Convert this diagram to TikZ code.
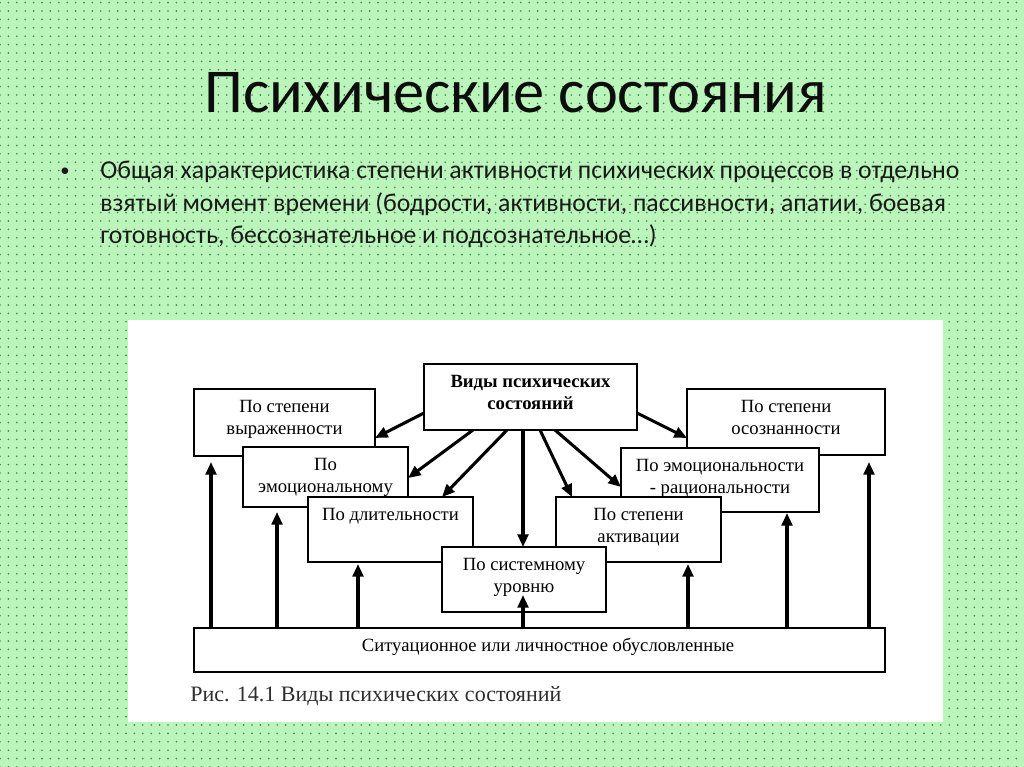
\documentclass[tikz,border=0pt]{standalone}
\usepackage{fontspec}
\setmainfont{Carlito}
\newfontfamily\dgfont{Liberation Serif}
\usetikzlibrary{patterns.meta,arrows.meta,calc}
\definecolor{bggreen}{RGB}{188,245,188}
\definecolor{dotgreen}{RGB}{60,140,75}
\definecolor{captxt}{RGB}{45,45,45}
\newdimen\pxu \pxu=0.75pt
\newcommand\bxt[3]{\parbox[c][#2\pxu][t]{#1\pxu}{\centering\vspace*{5.7pt}\strut#3\par}}
\begin{document}
\begin{tikzpicture}[x=0.75pt,y=-0.75pt,
  box/.style={draw=black, fill=white, line width=1.6pt, inner sep=0pt, outer sep=0pt,
    text=black, font=\dgfont\fontsize{14}{16.5}\selectfont},
  arr/.style={line width=2.3pt, -{Triangle[length=9.5pt,width=8pt]}},
  bodytxt/.style={anchor=base west, inner sep=0pt, text=black!90, font=\fontsize{19.3}{24}\selectfont}]
\fill[bggreen] (0,0) rectangle (1024,767);
\fill[pattern={Dots[distance=6.3pt,radius=0.7pt]}, pattern color=dotgreen] (0,0) rectangle (1024,767);
\useasboundingbox (0,0) rectangle (1024,767);

% title and text
\node[anchor=base west, inner sep=0pt, text=black!95, font=\fontsize{46.8}{52}\selectfont] (title) at (204,113) {Психические состояния};
\node[anchor=base, inner sep=0pt, text=black!90, font=\fontsize{14}{20}\selectfont] (bullet) at (65,176) {•};
\node[bodytxt] (l1) at (100,178) {Общая характеристика степени активности психических процессов в отдельно};
\node[bodytxt] (l2) at (100,211) {взятый момент времени (бодрости, активности, пассивности, апатии, боевая};
\node[bodytxt] (l3) at (100,243) {готовность, бессознательное и подсознательное…)};

% white panel
\fill[white] (128,320) rectangle (943,722);

% boxes
\node[box] (vyr) at (284.5,422.5) {\bxt{181}{67}{По степени\\выраженности}};
\node[box] (emo) at (325.5,477) {\bxt{165}{60}{По\\эмоциональному}};
\node[box] (dlit) at (390.5,529.5) {\bxt{165}{65}{По длительности}};
\node[box] (osoz) at (786,422) {\bxt{198}{66}{По степени\\осознанности}};
\node[box] (emr) at (720,480) {\bxt{198}{64}{По эмоциональности\\- рациональности}};
\node[box] (akt) at (638.5,529.5) {\bxt{165}{65}{По степени\\активации}};
\node[box] (sys) at (524,579.5) {\bxt{164}{65}{По системному\\уровню}};
\node[box] (vidy) at (530.5,397) {\bxt{213}{66}{\bfseries Виды психических\\состояний}};
\node[box] (sit) at (539.5,650) {\bxt{691}{44}{\hspace*{17\pxu}Ситуационное или личностное обусловленные}};

% arrows from the top box
\draw[arr] ($(vidy.west)+(0,16)$) -- ($(vyr.east)+(0,15.5)$);
\draw[arr] ($(vidy.south west)+(49,0)$) -- ($(emo.east)+(0,1)$);
\draw[arr] ($(vidy.south west)+(83,0)$) -- ($(dlit.north west)+(134,0)$);
\draw[arr] ($(vidy.south west)+(99,0)$) -- ($(sys.north)+(-1,0)$);
\draw[arr] ($(vidy.south west)+(116,0)$) -- ($(akt.north west)+(16,0)$);
\draw[arr] ($(vidy.south west)+(131,0)$) -- ($(emr.west)+(0,7)$);
\draw[arr] ($(vidy.east)+(0,16)$) -- ($(osoz.west)+(0,16)$);

% arrows from the bottom box
\draw[arr] ($(sit.north west)+(17,0)$) -- ($(vyr.south west)+(17,6)$);
\draw[arr] ($(sit.north west)+(83,0)$) -- ($(emo.south west)+(34,5)$);
\draw[arr] ($(sit.north west)+(164,0)$) -- ($(dlit.south west)+(50,2)$);
\draw[arr] ($(sit.north west)+(329,0)$) -- ($(sys.south)+(-1,-17)$);
\draw[arr] ($(sit.north west)+(494,0)$) -- ($(akt.south west)+(132,2)$);
\draw[arr] ($(sit.north west)+(593,0)$) -- ($(emr.south west)+(166,1)$);
\draw[arr] ($(sit.north west)+(675,0)$) -- ($(osoz.south west)+(182,7)$);

% caption
\node[anchor=base west, inner sep=0pt, text=captxt, font=\dgfont\fontsize{16.5}{20}\selectfont] (cap) at (190,701.7) {Рис. 14.1 Виды психических состояний};
\end{tikzpicture}
\end{document}
